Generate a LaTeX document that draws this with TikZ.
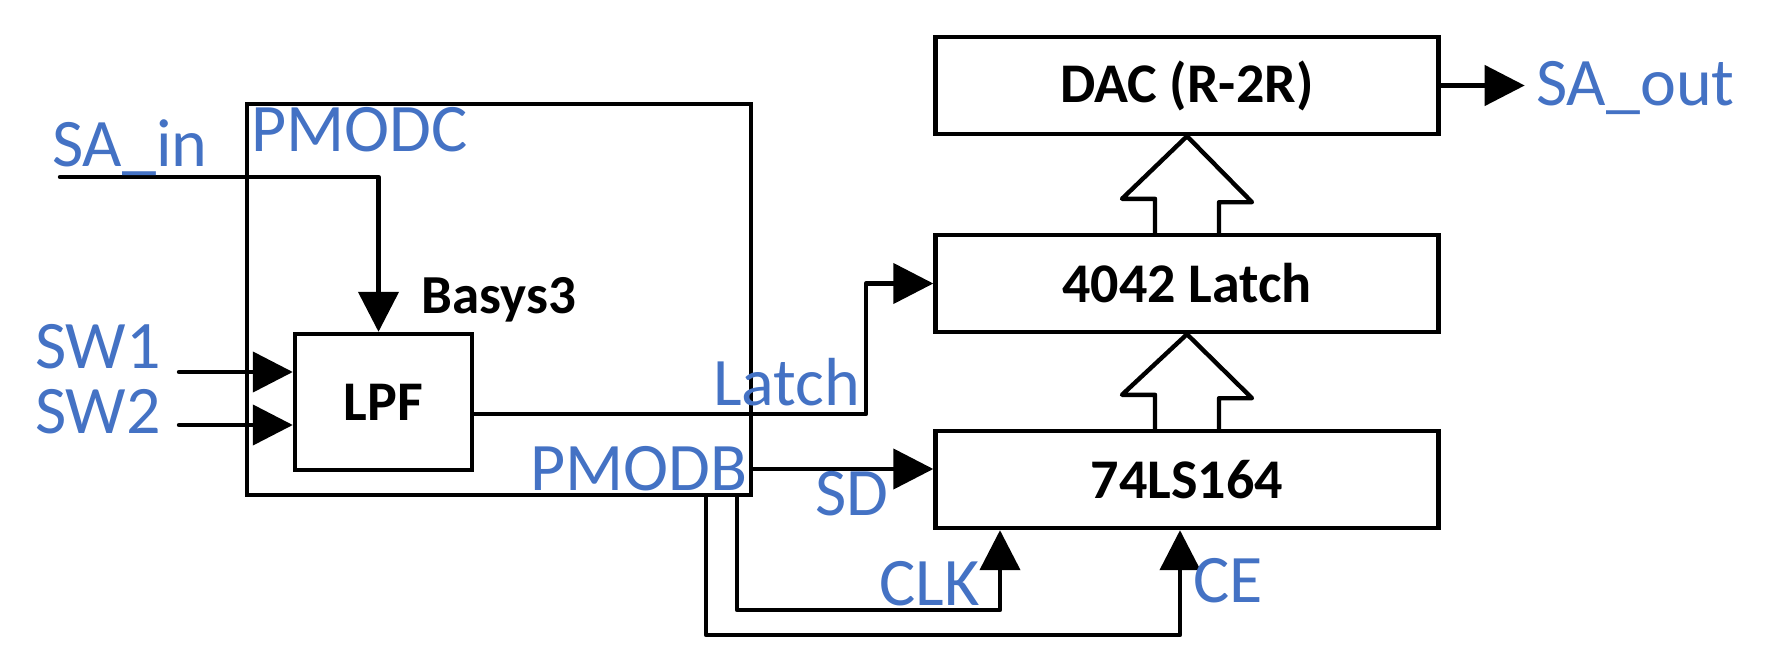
\documentclass[tikz,border=0pt]{standalone}
\usepackage{fontspec}
\setmainfont{Carlito}
\usetikzlibrary{arrows.meta,calc}
\definecolor{lblue}{HTML}{4472C4}
\begin{document}
\begin{tikzpicture}[x=1pt,y=-1pt,
  blk/.style={draw,line width=4.4pt,inner sep=0pt,font=\bfseries\fontsize{56}{56}\selectfont},
  lbl/.style={anchor=base west,inner sep=0pt,text=lblue,font=\fontsize{68}{68}\selectfont},
  wire/.style={line width=4.4pt,line cap=round,line join=round},
  conn/.style={wire,-{Triangle[length=40pt,width=40pt]}},
  hollow/.style={line width=4.4pt,line join=round,fill=white}]
\fill[white] (0,0) rectangle (1788,661);
\useasboundingbox (0,0) rectangle (1788,661);
% blocks
\node[blk,minimum width=504pt,minimum height=391pt] (basys) at (499,299.5) {};
\node[blk,minimum width=177pt,minimum height=136pt] (lpf) at (383.5,402) {LPF};
\node[blk,minimum width=503pt,minimum height=97pt] (dac) at (1187,85.5) {DAC (R-2R)};
\node[blk,minimum width=503pt,minimum height=97pt] (latch) at (1187,283.5) {4042 Latch};
\node[blk,minimum width=503pt,minimum height=97pt] (sr) at (1187,479.5) {74LS164};
% free ends
\coordinate (sain) at (60,177);
\coordinate (sw1) at (179,372);
\coordinate (sw2) at (179,425);
\coordinate (lb) at (866,414);
\coordinate (sdin) at ([yshift=10.5pt]sr.west);
\coordinate (clkout) at (737,497);
\coordinate (ceout) at (706,497);
\coordinate (clkin) at ([xshift=-187pt]sr.south);
\coordinate (cein) at ([xshift=-7pt]sr.south);
% connectors
\draw[conn] (sain) -| ([xshift=-5pt]lpf.north);
\draw[conn] (sw1) -- (sw1 -| lpf.west);
\draw[conn] (sw2) -- (sw2 -| lpf.west);
\draw[conn] ([yshift=-12pt]lpf.east) -- (lb) |- (latch.west);
\draw[conn] (basys.east |- sdin) -- (sdin);
\draw[conn] (clkout) -- ++(0,113) -| (clkin);
\draw[conn] (ceout) -- ++(0,138) -| (cein);
\draw[conn] (dac.east) -- ++(84,0);
% hollow bus arrows
\draw[hollow] ([xshift=-32pt]latch.north) -- ++(0,-34) -- ++(-33,0) -- (dac.south)
  -- ([xshift=65pt,yshift=-66pt]dac.south) -- ++(-33,0) -- ([xshift=32pt]latch.north);
\draw[hollow] ([xshift=-32pt]sr.north) -- ++(0,-34) -- ++(-33,0) -- (latch.south)
  -- ([xshift=65pt,yshift=-64pt]latch.south) -- ++(-33,0) -- ([xshift=32pt]sr.north);
% labels
\node[lbl] (sainl) at (52,166) {SA\_in};
\node[lbl] (pmodc) at (251,151) {PMODC};
\node[lbl] (sw1l) at (35,368) {SW1};
\node[lbl] (sw2l) at (35,433) {SW2};
\node[anchor=base west,inner sep=0pt,font=\bfseries\fontsize{55}{55}\selectfont] (bas3) at (421,313) {Basys3};
\node[lbl] (latchl) at (713,405) {Latch};
\node[lbl] (pmodb) at (530,490) {PMODB};
\node[lbl] (sdl) at (815,515) {SD};
\node[lbl] (clkl) at (879,605) {CLK};
\node[lbl] (cel) at (1193,602) {CE};
\node[lbl] (saout) at (1536,105) {SA\_out};
\end{tikzpicture}
\end{document}
